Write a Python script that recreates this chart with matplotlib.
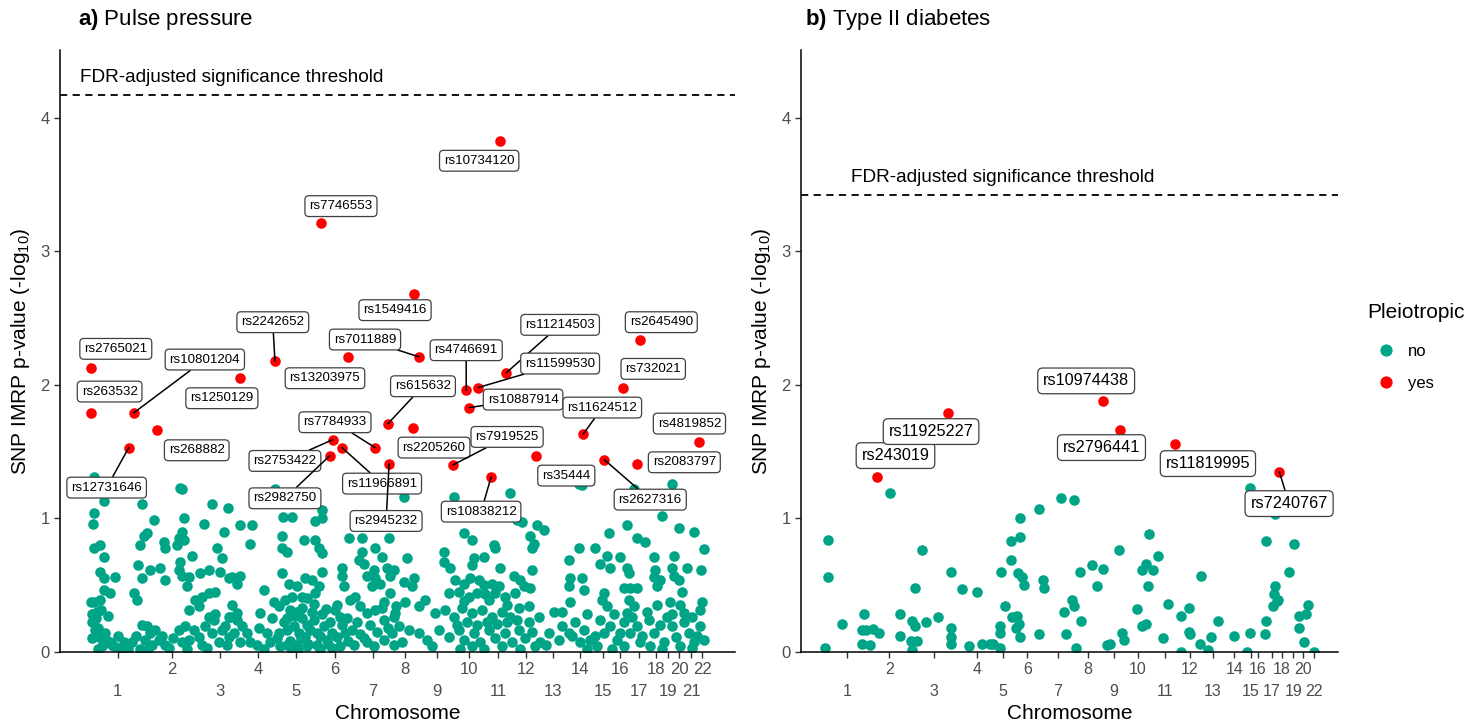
import numpy as np
import matplotlib
matplotlib.use("Agg")
import matplotlib.pyplot as plt
from matplotlib.lines import Line2D

plt.rcParams["font.family"] = ["Liberation Sans", "DejaVu Sans"]
plt.rcParams["mathtext.fontset"] = "custom"
plt.rcParams["mathtext.rm"] = "Liberation Sans"
plt.rcParams["mathtext.bf"] = "Liberation Sans:bold"
plt.rcParams["mathtext.it"] = "Liberation Sans:italic"

GREEN = "#00A587"
RED = "#FF0000"

# ---------------- a) Pulse pressure ----------------
# cumulative genome position (Mb) and -log10 p of non-pleiotropic SNPs
pp_pos = [14, 418, 428, 61, 240, 569, 644, 14, 9, 296, 437, 531, 625, 263, 249, 428, 414, 437, 404, 343,
          348, 230, 14, 42, 61, 592, 475, 616, 221, 277, 324, 240, 348, 418, 414, 428, 461, 451, 512, 555,
          606, 649, 42, 61, 113, 61, 89, 202, 216, 0, 14, 42, 5, 5, 461, 489, 508, 555, 583, 522,
          555, 583, 649, 630, 19, 38, 66, 89, 99, 52, 155, 193, 240, 263, 277, 301, 254, 320, 348, 287,
          414, 442, 484, 461, 428, 508, 536, 569, 602, 522, 616, 649, 639, 5, 28, 33,
          24, 33, 47, 71, 80, 108, 127, 141, 174, 212, 230, 268, 334, 367, 385, 451, 545, 578, 663, 686,
          865, 1086, 945, 902, 1053, 1086, 700, 757, 898, 1001, 1053, 747, 898, 921, 1072, 1086, 1180, 1180, 1189, 1213,
          1274, 1335, 1368, 1401, 1274, 1260, 1283, 1330, 1297, 1335, 1321, 1358, 1391, 1405, 663, 700, 686, 898, 931, 813,
          1006, 1039, 1072, 1086, 1053, 968, 992, 1015, 945, 912, 860, 884, 794, 1147, 1170, 1203, 1217, 1241, 1264, 1297,
          1335, 1377, 1405, 1377, 1424, 653, 686, 710, 733, 672, 700, 747, 780, 841, 884, 921, 954, 978, 1006, 1029,
          1062, 1095, 1109, 1062, 1015, 968, 921, 888, 1156, 1194, 1227, 1264, 1297, 1344, 1377, 1415, 1424, 1236, 1330, 1170,
          827, 790, 945, 992, 1039, 1086, 1123, 1076, 1015, 968, 921, 1133, 1156, 851, 813,
          874, 907, 935, 959, 987, 1020, 1048, 1076, 1105, 1133, 1048, 992, 935, 1114, 973, 1180, 1208, 1250, 1283, 1311,
          1368, 1396, 1434,
          1706, 1969, 2002, 2026, 1471, 1753, 1791, 1894, 1899, 2096, 2129, 2063, 2082, 2073, 1659, 1659, 1687, 1800, 1791, 1847,
          1485, 1922, 2073, 1424, 1988, 2016, 2035, 2063, 1471, 1518, 1509, 1711, 1753, 1781, 1824, 1847, 1885, 1918, 1683, 1730,
          1777, 1814, 1871, 1899, 1946, 1993, 1476, 1542, 1429, 1570, 1617, 1664, 1706, 1744, 1791, 1838, 1885, 1932, 1969, 2012,
          2059, 2106, 2176, 1448, 1495, 1542, 1579, 1636, 1683, 1730, 1753, 1800, 1828, 1871, 1899, 1946, 1979, 2012, 2040, 2073,
          2110, 2153, 2200, 1462, 1603, 1791, 1932, 2087,
          1720, 1767, 1814, 1861, 1908, 1955, 2002, 1753, 1852, 1955, 1734, 1847, 2016, 2059, 2139, 2214,
          2294, 2308, 2731, 2552, 2684, 2519, 2764, 2834, 2435, 2566, 2604, 2294, 2369, 2881, 2247, 2392, 2425, 2439, 2486, 2519,
          2529, 2646, 2740, 2801, 2867, 2651, 2646, 2674, 2660, 2731, 2740, 2764, 2778, 2251, 2247, 2308, 2317, 2505, 2533, 2566,
          2411, 2402, 2425, 2251, 2529, 2552, 2519, 2660, 2721, 2768, 2872, 2862, 2731, 2787, 2214, 2247, 2275, 2317, 2345, 2298,
          2392, 2411, 2439, 2472, 2505, 2533, 2566, 2580, 2623, 2646, 2674, 2693, 2731, 2750, 2787, 2811, 2834, 2862, 2881, 2378,
          2505, 2627, 2768,
          2261, 2331, 2369, 2458, 2486, 2543, 2590, 2613, 2707, 2825, 2848, 2684, 2449, 2331, 2825]
pp_val = [1.31, 1.23, 1.22, 1.13, 1.11, 1.11, 1.08, 1.04, 0.96, 0.99, 1.00, 0.96, 0.90, 0.89, 0.87, 0.90, 0.85, 0.84, 0.80, 0.82,
          0.78, 0.80, 0.78, 0.80, 0.71, 0.78, 0.72, 0.70, 0.65, 0.61, 0.63, 0.55, 0.54, 0.67, 0.61, 0.57, 0.56, 0.49, 0.59, 0.61,
          0.60, 0.55, 0.60, 0.55, 0.56, 0.46, 0.44, 0.44, 0.39, 0.37, 0.37, 0.39, 0.28, 0.22, 0.31, 0.39, 0.34, 0.44, 0.45, 0.41,
          0.26, 0.28, 0.26, 0.19, 0.16, 0.11, 0.14, 0.07, 0.05, 0.04, 0.07, 0.07, 0.20, 0.19, 0.14, 0.16, 0.09, 0.09, 0.05, 0.05,
          0.16, 0.19, 0.16, 0.09, 0.07, 0.11, 0.19, 0.14, 0.07, 0.05, 0.16, 0.11, 0.05, 0.10, 0.30, 0.02,
          0.25, 0.18, 0.31, 0.09, 0.27, 0.04, 0.12, 0.03, 0.02, 0.12, 0.02, 0.02, 0.12, 0.03, 0.10, 0.02, 0.03, 0.24, 0.35, 0.29,
          1.22, 1.06, 1.01, 1.01, 0.98, 1.00, 0.95, 0.95, 0.87, 0.84, 0.84, 0.81, 0.78, 0.75, 0.78, 0.74, 0.63, 0.57, 0.49, 0.85,
          0.85, 0.78, 0.71, 0.85, 0.75, 0.69, 0.66, 0.61, 0.57, 0.55, 0.49, 0.51, 0.63, 0.57, 0.56, 0.57, 0.51, 0.59, 0.51, 0.46,
          0.55, 0.54, 0.49, 0.60, 0.44, 0.49, 0.41, 0.40, 0.41, 0.39, 0.37, 0.34, 0.29, 0.31, 0.26, 0.25, 0.39, 0.41, 0.34, 0.29,
          0.31, 0.37, 0.44, 0.24, 0.26, 0.26, 0.24, 0.19, 0.14, 0.14, 0.07, 0.07, 0.05, 0.07, 0.14, 0.16, 0.19, 0.14, 0.11, 0.16,
          0.14, 0.19, 0.09, 0.05, 0.04, 0.05, 0.05, 0.04, 0.11, 0.14, 0.16, 0.13, 0.07, 0.15, 0.09, 0.14, 0.05, 0.05, 0.04, 0.04,
          0.14, 0.18, 0.02, 0.25, 0.30, 0.28, 0.22, 0.02, 0.20, 0.30, 0.25, 0.03, 0.35, 0.25, 0.02,
          0.10, 0.22, 0.08, 0.27, 0.10, 0.06, 0.24, 0.12, 0.32, 0.14, 0.36, 0.33, 0.31, 0.06, 0.02, 0.20, 0.08, 0.22, 0.10, 0.20,
          0.33, 0.18, 0.34,
          1.16, 1.19, 0.99, 0.97, 1.16, 0.89, 0.84, 0.80, 0.78, 0.95, 0.91, 0.87, 0.81, 0.78, 0.75, 0.67, 0.63, 0.70, 0.65, 0.71,
          0.70, 0.63, 0.61, 0.61, 0.57, 0.54, 0.49, 0.48, 0.52, 0.55, 0.49, 0.54, 0.51, 0.55, 0.54, 0.50, 0.51, 0.49, 0.44, 0.45,
          0.41, 0.44, 0.39, 0.44, 0.41, 0.44, 0.37, 0.34, 0.29, 0.39, 0.29, 0.31, 0.26, 0.33, 0.29, 0.31, 0.26, 0.30, 0.26, 0.33,
          0.34, 0.26, 0.30, 0.19, 0.16, 0.14, 0.09, 0.16, 0.11, 0.16, 0.09, 0.14, 0.07, 0.16, 0.10, 0.14, 0.07, 0.16, 0.10, 0.15,
          0.07, 0.14, 0.09, 0.07, 0.04, 0.04, 0.04, 0.04,
          0.20, 0.22, 0.20, 0.22, 0.21, 0.22, 0.24, 0.38, 0.43, 0.35, 0.02, 0.02, 0.02, 0.22, 0.05, 0.30,
          1.26, 1.25, 1.26, 1.22, 1.02, 0.95, 0.93, 0.90, 0.89, 0.85, 0.82, 0.78, 0.78, 0.77, 0.69, 0.66, 0.72, 0.63, 0.71, 0.63,
          0.59, 0.71, 0.72, 0.63, 0.61, 0.61, 0.56, 0.54, 0.49, 0.63, 0.57, 0.54, 0.45, 0.55, 0.49, 0.55, 0.46, 0.48, 0.48, 0.48,
          0.44, 0.39, 0.34, 0.37, 0.39, 0.34, 0.29, 0.35, 0.37, 0.35, 0.37, 0.31, 0.28, 0.29, 0.19, 0.14, 0.22, 0.16, 0.09, 0.07,
          0.24, 0.14, 0.19, 0.09, 0.22, 0.14, 0.19, 0.07, 0.24, 0.14, 0.20, 0.07, 0.19, 0.11, 0.22, 0.14, 0.07, 0.19, 0.09, 0.04,
          0.04, 0.04, 0.04,
          0.12, 0.28, 0.12, 0.28, 0.14, 0.26, 0.12, 0.30, 0.26, 0.26, 0.12, 0.02, 0.02, 0.02, 0.03]

# pleiotropic SNPs (red, labelled)
pp_snp = ["rs2765021", "rs263532", "rs10801204", "rs12731646", "rs268882", "rs1250129", "rs2242652",
          "rs13203975", "rs7746553", "rs1549416", "rs7011889", "rs7784933", "rs2753422", "rs2982750",
          "rs11966891", "rs2945232", "rs615632", "rs2205260", "rs4746691", "rs11214503", "rs11599530",
          "rs10887914", "rs10734120", "rs7919525", "rs10838212", "rs35444", "rs11624512", "rs2627316",
          "rs2645490", "rs732021", "rs4819852", "rs2083797"]
pp_snp_pos = [0, 2, 202, 179, 310, 700, 865, 1208, 1081, 1518, 1542, 1335, 1137, 1123, 1180, 1401, 1396,
              1513, 1763, 1951, 1819, 1777, 1922, 1701, 1880, 2092, 2312, 2411, 2580, 2500, 2858, 2566]
pp_snp_val = [2.13, 1.79, 1.79, 1.53, 1.66, 2.05, 2.18, 2.21, 3.21, 2.68, 2.21, 1.53, 1.59, 1.47, 1.53,
              1.41, 1.71, 1.68, 1.96, 2.09, 1.98, 1.83, 3.83, 1.40, 1.31, 1.47, 1.63, 1.44, 2.34, 1.98,
              1.57, 1.41]
# repelled label placement
pp_lab_pos = [118, 89, 536, 75, 498, 616, 855, 1100, 1175, 1429, 1288, 1147, 912, 912, 1368, 1387, 1560,
              1612, 1763, 2204, 2204, 2030, 1824, 1955, 1833, 2233, 2402, 2627, 2679, 2641, 2811, 2787]
pp_lab_val = [2.27, 1.95, 2.19, 1.23, 1.51, 1.90, 2.47, 2.05, 3.34, 2.56, 2.34, 1.72, 1.43, 1.15, 1.26,
              0.98, 1.99, 1.53, 2.26, 2.45, 2.16, 1.89, 3.68, 1.61, 1.05, 1.32, 1.83, 1.14, 2.47, 2.12,
              1.71, 1.42]
pp_chr = [str(c) for c in range(1, 23)]
pp_chr_mid = [127, 381, 606, 785, 964, 1147, 1325, 1476, 1626, 1777, 1913, 2045, 2171, 2298, 2406,
              2486, 2576, 2656, 2712, 2764, 2820, 2872]
pp_threshold = 4.17

# ---------------- b) Type II diabetes ----------------
t2d_pos = [20, 20, 6, 104, 232, 216, 242, 285, 315, 216, 265, 384, 439, 439, 511, 525, 501, 540, 511, 570,
           525, 590, 659, 734, 734, 734, 734, 797, 840, 885, 918, 964, 983, 1023, 1029, 1052, 1023, 1023, 1082, 1082,
           1135, 1135, 1127, 1151, 1160, 1092, 1120, 1130, 1115, 1137, 1249, 1269, 1278, 1249, 1377, 1451, 1392, 1406, 1439, 1451,
           1485, 1491, 1465, 1556, 1587, 1619, 1642, 1662, 1711, 1731, 1743, 1819, 1848, 1868, 1888, 1848, 1868, 1908, 1882, 1941,
           1971, 1996, 2071, 2071, 2118, 2118, 2124, 2187, 2183, 2228, 2248, 2287, 2384, 2458, 2474, 2474, 2561, 2570, 2567, 2621,
           2621, 2616, 2630, 2611, 2635, 2704, 2728, 2759, 2803, 2813, 2759, 2787, 2845]
t2d_val = [0.84, 0.56, 0.03, 0.21, 0.28, 0.16, 0.16, 0.17, 0.14, 0.06, 0.05, 1.19, 0.28, 0.12, 0.23, 0.19, 0.08, 0.08, 0.01, 0.76,
           0.48, 0.22, 0.26, 0.60, 0.18, 0.11, 0.06, 0.47, 0.04, 0.45, 0.06, 0.06, 0.06, 0.03, 0.60, 0.34, 0.19, 0.14, 0.83, 0.69,
           1.00, 0.86, 0.59, 0.56, 0.50, 0.26, 0.27, 0.21, 0.18, 0.11, 1.07, 0.54, 0.48, 0.13, 1.15, 1.14, 0.30, 0.13, 0.39, 0.34,
           0.60, 0.23, 0.03, 0.65, 0.49, 0.62, 0.05, 0.06, 0.76, 0.14, 0.09, 0.32, 0.19, 0.21, 0.88, 0.61, 0.66, 0.61, 0.49, 0.72,
           0.10, 0.36, 0.27, 0.00, 0.33, 0.15, 0.13, 0.57, 0.06, 0.01, 0.11, 0.23, 0.12, 0.00, 0.14, 1.23, 0.13, 0.23, 0.83, 1.03,
           0.49, 0.43, 0.38, 0.34, 0.39, 0.60, 0.81, 0.27, 0.28, 0.35, 0.18, 0.07, 0.00]
t2d_snp = ["rs243019", "rs11925227", "rs10974438", "rs2796441", "rs11819995", "rs7240767"]
t2d_snp_pos = [305, 718, 1622, 1717, 2036, 2645]
t2d_snp_val = [1.31, 1.79, 1.88, 1.66, 1.56, 1.35]
t2d_lab_pos = [413, 620, 1522, 1611, 2230, 2702]
t2d_lab_val = [1.47, 1.65, 2.03, 1.53, 1.41, 1.11]
t2d_chr = [str(c) for c in range(1, 21)] + ["22"]
t2d_chr_mid = [130, 378, 637, 885, 1038, 1180, 1357, 1534, 1682, 1823, 1982, 2124, 2260, 2384, 2478,
               2519, 2602, 2661, 2726, 2785, 2845]
t2d_threshold = 3.42

fig = plt.figure(figsize=(14.81, 7.23), dpi=100)
ax1 = fig.add_axes([0.0405, 0.0986, 0.4558, 0.8322])
ax2 = fig.add_axes([0.5409, 0.0986, 0.3626, 0.8322])

all_labels = []


def draw_panel(ax, pos, val, snp, spos, sval, lpos, lval, chrs, mids, thr, thr_x, lab_size, xtick_size):
    ax.scatter(pos, val, s=58, color=GREEN, linewidths=0, zorder=2)
    ax.scatter(spos, sval, s=58, color=RED, linewidths=0, zorder=3)
    allx = np.concatenate([pos, spos])
    lo, hi = allx.min(), allx.max()
    pad = 0.05 * (hi - lo)
    ax.set_xlim(lo - pad, hi + pad)
    ax.set_ylim(0, 4.51)
    ax.axhline(thr, color="black", lw=1.3, ls=(0, (4, 3)), zorder=1)
    ax.text(thr_x, thr + 0.07, "FDR-adjusted significance threshold", fontsize=13.7,
            ha="left", va="bottom", color="black")
    for name, x, y, tx, ty in zip(snp, spos, sval, lpos, lval):
        ann = ax.annotate(name, xy=(x, y), xytext=(tx, ty), textcoords="data",
                          ha="center", va="center", fontsize=lab_size, zorder=5,
                          bbox=dict(boxstyle="round,pad=0.33,rounding_size=0.3", fc="white",
                                    ec="#404040", lw=0.9),
                          arrowprops=dict(arrowstyle="-", color="black", lw=1.1,
                                          shrinkA=0, shrinkB=0))
        all_labels.append((ax, ann, x, y))
    # chromosome labels alternate between two rows: upper row on major ticks, lower row on minor ticks
    ax.set_xticks(mids[1::2])
    ax.set_xticklabels(chrs[1::2])
    ax.set_xticks(mids[0::2], minor=True)
    ax.set_xticklabels(chrs[0::2], minor=True)
    ax.set_yticks([0, 1, 2, 3, 4])
    ax.tick_params(axis="both", which="both", labelsize=12, labelcolor="#4D4D4D", color="#333333",
                   length=4, width=1.0)
    ax.tick_params(axis="x", which="major", labelsize=xtick_size, pad=3.5)
    ax.tick_params(axis="x", which="minor", labelsize=xtick_size, pad=19)
    for side in ["top", "right"]:
        ax.spines[side].set_visible(False)
    for side in ["left", "bottom"]:
        ax.spines[side].set_linewidth(1.1)
    ax.set_xlabel("Chromosome", fontsize=15, labelpad=4)
    ax.set_ylabel(r"SNP IMRP p-value (-log$_{10}$)", fontsize=15, labelpad=6)


draw_panel(ax1, np.array(pp_pos), np.array(pp_val), pp_snp, np.array(pp_snp_pos), pp_snp_val,
           pp_lab_pos, pp_lab_val, pp_chr, pp_chr_mid, pp_threshold, -52, 9.6, 12)
draw_panel(ax2, np.array(t2d_pos), np.array(t2d_val), t2d_snp, np.array(t2d_snp_pos), t2d_snp_val,
           t2d_lab_pos, t2d_lab_val, t2d_chr, t2d_chr_mid, t2d_threshold, 153, 11.7, 11.5)

fig.text(78 / 1481, 1 - 20 / 723, r"$\bf{a)}$ Pulse pressure", fontsize=16, ha="left", va="center")
fig.text(805 / 1481, 1 - 20 / 723, r"$\bf{b)}$ Type II diabetes", fontsize=16, ha="left", va="center")

# legend
fig.text(1367 / 1481, 1 - 313 / 723, "Pleiotropic", fontsize=15, ha="left", va="center")
handles = [Line2D([], [], marker="o", ls="", color=GREEN, markersize=7.8),
           Line2D([], [], marker="o", ls="", color=RED, markersize=7.8)]
leg = fig.legend(handles, ["no", "yes"], loc="upper left",
                 bbox_to_anchor=(1358 / 1481, 1 - 329 / 723), frameon=False, fontsize=12,
                 labelspacing=1.0, handletextpad=0.5, handlelength=1.6)

# hide connector segments for labels sitting right next to their point (like ggrepel)
fig.canvas.draw()
renderer = fig.canvas.get_renderer()
for ax, ann, x, y in all_labels:
    ext = ann.get_bbox_patch().get_window_extent(renderer)
    px, py = ax.transData.transform((x, y))
    dx = max(ext.x0 - px, 0, px - ext.x1)
    dy = max(ext.y0 - py, 0, py - ext.y1)
    if np.hypot(dx, dy) - 4.5 < 8:
        ann.arrow_patch.set_visible(False)

fig.savefig("out.png", dpi=100)
